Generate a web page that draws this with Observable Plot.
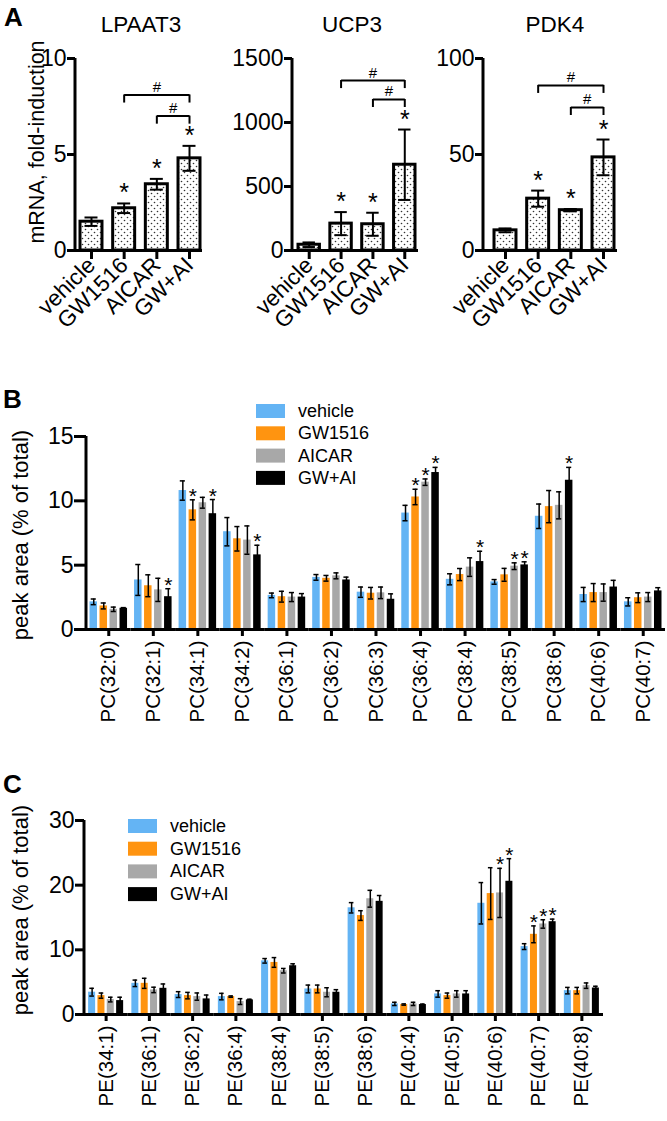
<!DOCTYPE html>
<html><head><meta charset="utf-8">
<script src="https://cdn.jsdelivr.net/npm/d3@7"></script>
<script src="https://cdn.jsdelivr.net/npm/@observablehq/plot@0.6"></script>
<style>
body{margin:0;background:#fff;}
#fig{position:relative;width:667px;height:1121px;overflow:hidden;background:#fff;}
</style></head><body>
<svg width="0" height="0" style="position:absolute;left:0;top:0"><defs>
<pattern id="dots" width="6" height="6" patternUnits="userSpaceOnUse">
<rect width="6" height="6" fill="white"/>
<circle cx="1.5" cy="1.5" r="0.8" fill="#333"/>
<circle cx="4.5" cy="4.5" r="0.8" fill="#333"/>
</pattern></defs></svg>
<div id="fig"></div>
<script>
// ---------- data ----------
const groups = ["vehicle", "GW1516", "AICAR", "GW+AI"];
const colors = ["#64b4f4", "#ff9410", "#a8a8a8", "#000000"];

// Panel A (mean, SEM)
const lpaat3Mean = [1.5, 2.2, 3.45, 4.8];
const lpaat3Err = [0.22, 0.25, 0.28, 0.65];
const ucp3Mean = [45, 210, 205, 670];
const ucp3Err = [18, 90, 90, 275];
const pdk4Mean = [10.5, 27, 21, 48.5];
const pdk4Err = [1.0, 4.2, 0.6, 9.3];
const starsA = ["GW1516", "AICAR", "GW+AI"];
const bracketPairs = [["GW1516", "GW+AI"], ["AICAR", "GW+AI"]];
const lpaat3Levels = [8.1, 7.0];
const ucp3Levels = [1328, 1180];
const pdk4Levels = [86, 74.5];
const lpaat3Ticks = [0, 5, 10];
const ucp3Ticks = [0, 500, 1000, 1500];
const pdk4Ticks = [0, 50, 100];

// Panel B
const lipidsB = ["PC(32:0)","PC(32:1)","PC(34:1)","PC(34:2)","PC(36:1)","PC(36:2)","PC(36:3)","PC(36:4)","PC(38:4)","PC(38:5)","PC(38:6)","PC(40:6)","PC(40:7)"];
const vehicleB = [2.15, 3.85, 10.8, 7.6, 2.65, 4.05, 2.9, 9.05, 3.9, 3.7, 8.8, 2.72, 2.15];
const vehicleBErr = [0.22, 1.2, 0.75, 1.1, 0.18, 0.22, 0.4, 0.6, 0.43, 0.18, 0.95, 0.55, 0.32];
const gwB = [1.83, 3.4, 9.3, 7.05, 2.55, 3.98, 2.82, 10.3, 4.27, 4.25, 9.55, 2.87, 2.47];
const gwBErr = [0.23, 0.85, 0.78, 0.95, 0.42, 0.22, 0.45, 0.6, 0.47, 0.5, 1.25, 0.7, 0.38];
const aicarB = [1.57, 3.08, 9.85, 6.95, 2.52, 4.17, 2.85, 11.45, 4.85, 4.92, 9.65, 2.87, 2.52];
const aicarBErr = [0.17, 0.9, 0.42, 1.1, 0.35, 0.23, 0.45, 0.25, 0.72, 0.26, 1.05, 0.67, 0.35];
const gwaiB = [1.65, 2.55, 9.0, 5.8, 2.52, 3.85, 2.35, 12.2, 5.28, 5.02, 11.6, 3.3, 3.0];
const gwaiBErr = [0.05, 0.62, 1.1, 0.75, 0.27, 0.22, 0.42, 0.4, 0.8, 0.24, 1.0, 0.52, 0.25];
const starsB = [["PC(32:1)","GW+AI"],["PC(34:1)","GW1516"],["PC(34:1)","GW+AI"],["PC(34:2)","GW+AI"],["PC(36:4)","GW1516"],["PC(36:4)","AICAR"],["PC(36:4)","GW+AI"],["PC(38:4)","GW+AI"],["PC(38:5)","AICAR"],["PC(38:5)","GW+AI"],["PC(38:6)","GW+AI"]];
const ticksB = [0, 5, 10, 15];

// Panel C
const lipidsC = ["PE(34:1)","PE(36:1)","PE(36:2)","PE(36:4)","PE(38:4)","PE(38:5)","PE(38:6)","PE(40:4)","PE(40:5)","PE(40:6)","PE(40:7)","PE(40:8)"];
const vehicleC = [3.45, 4.82, 3.08, 2.77, 8.3, 3.95, 16.5, 1.64, 3.18, 17.2, 10.5, 3.69];
const vehicleCErr = [0.6, 0.5, 0.45, 0.5, 0.35, 0.6, 0.8, 0.25, 0.5, 3.2, 0.45, 0.5];
const gwC = [2.92, 4.82, 2.92, 2.77, 8.05, 3.95, 15.3, 1.54, 2.92, 18.7, 12.4, 3.69];
const gwCErr = [0.4, 0.78, 0.5, 0.1, 0.75, 0.6, 0.75, 0.1, 0.4, 4.0, 1.3, 0.5];
const aicarC = [2.31, 3.8, 2.77, 2.0, 6.77, 3.44, 17.9, 1.64, 3.18, 18.8, 14.0, 4.46];
const aicarCErr = [0.36, 0.42, 0.56, 0.45, 0.35, 0.7, 1.3, 0.25, 0.5, 3.8, 0.65, 0.42];
const gwaiC = [2.15, 4.05, 2.41, 2.26, 7.54, 3.44, 17.5, 1.54, 3.18, 20.6, 14.35, 4.1];
const gwaiCErr = [0.52, 0.67, 0.6, 0.1, 0.3, 0.4, 0.9, 0.08, 0.5, 3.5, 0.4, 0.27];
const starsC = [["PE(40:6)","AICAR"],["PE(40:6)","GW+AI"],["PE(40:7)","GW1516"],["PE(40:7)","AICAR"],["PE(40:7)","GW+AI"]];
const ticksC = [0, 10, 20, 30];

// ---------- helpers ----------
const FONT = '"Liberation Sans", Arial, Helvetica, sans-serif';
const fig = document.getElementById("fig");
function place(node, left, top) {
  node.style.position = "absolute";
  node.style.left = left + "px";
  node.style.top = top + "px";
  fig.appendChild(node);
}
function leftLine() {
  let done = false;
  return (index, scales, values, dims) => {
    if (done) return null;
    done = true;
    const {marginLeft, marginTop, height, marginBottom} = dims;
    return d3.create("svg:line")
      .attr("x1", marginLeft).attr("x2", marginLeft)
      .attr("y1", marginTop).attr("y2", height - marginBottom + 1.5)
      .attr("stroke", "black").attr("stroke-width", 3).node();
  };
}
const fmt = d => String(d);

function chartA({means, errs, ticks, levels, left, width, marginLeft, marginRight, range}) {
  const data = groups.map((g, i) => ({group: g, mean: means[i], err: errs[i], star: starsA.includes(g)}));
  const ymax = ticks[ticks.length - 1];
  const br = bracketPairs.map(([from, to], i) => ({from, to, level: levels[i]}));
  const legs = br.flatMap(b => [{x: b.from, level: b.level}, {x: b.to, level: b.level}]);
  const leg = ymax * 0.042;
  const pin = 0.327;
  const step = (range[1] - range[0]) / (groups.length - pin);
  const plot = Plot.plot({
    width, height: 340, marginTop: 58, marginBottom: 90, marginLeft, marginRight,
    style: {background: "transparent", overflow: "visible", fontFamily: FONT},
    x: {domain: groups, range, paddingInner: pin, paddingOuter: 0, round: false, axis: null},
    y: {domain: [0, ymax], axis: null},
    marks: [
      Plot.barY(data, {x: "group", y: "mean", fill: "url(#dots)", stroke: "black", strokeWidth: 3}),
      Plot.ruleX(data, {x: "group", y1: d => d.mean - d.err, y2: d => d.mean + d.err, stroke: "black", strokeWidth: 2}),
      Plot.tickY(data, {x: "group", y: d => d.mean + d.err, stroke: "black", strokeWidth: 2, insetLeft: 4.5, insetRight: 4.5}),
      Plot.tickY(data, {x: "group", y: d => d.mean - d.err, stroke: "black", strokeWidth: 2, insetLeft: 4.5, insetRight: 4.5}),
      Plot.text(data.filter(d => d.star), {x: "group", y: d => d.mean + d.err, text: () => "*", fontSize: 25, lineAnchor: "bottom", dy: -2}),
      Plot.link(br, {x1: "from", x2: "to", y1: "level", y2: "level", stroke: "black", strokeWidth: 2}),
      Plot.ruleX(legs, {x: "x", y1: "level", y2: d => d.level - leg, stroke: "black", strokeWidth: 2}),
      ...br.map(b => Plot.text([b], {x: "to", y: "level", text: () => "#", fontSize: 15, lineAnchor: "bottom", dy: -3,
        dx: -(groups.indexOf(b.to) - groups.indexOf(b.from)) * step / 2})),
      Plot.ruleY([0], {stroke: "black", strokeWidth: 3}),
      leftLine(),
      Plot.axisY({ticks, tickFormat: fmt, tickSize: 8, strokeWidth: 3, fontSize: 23, tickPadding: 1, label: null}),
      Plot.axisX({tickSize: 9, strokeWidth: 3, fontSize: 22.5, tickRotate: -45, tickPadding: 2, label: null})
    ]
  });
  place(plot, left, 0);
}

function table(lipids, means, errs) {
  const rows = [];
  lipids.forEach((l, i) => groups.forEach((g, j) => rows.push({lipid: l, series: g, mean: means[j][i], err: errs[j][i]})));
  return rows;
}

function chartGrouped({lipids, rows, stars, ticks, top, height, marginTop, marginBottom, marginLeft, marginRight, pin, pout, tickSize}) {
  const ymax = ticks[ticks.length - 1];
  const starRows = rows.filter(r => stars.some(([l, s]) => l === r.lipid && s === r.series));
  const plot = Plot.plot({
    width: 667, height, marginTop, marginBottom, marginLeft, marginRight,
    style: {background: "transparent", overflow: "visible", fontFamily: FONT},
    fx: {domain: lipids, paddingInner: 0, paddingOuter: 0, round: false, axis: null},
    x: {domain: groups, paddingInner: pin, paddingOuter: pout, round: false, axis: null},
    y: {domain: [0, ymax], axis: null},
    color: {domain: groups, range: colors},
    marks: [
      Plot.barY(rows, {fx: "lipid", x: "series", y: "mean", fill: "series"}),
      Plot.ruleX(rows, {fx: "lipid", x: "series", y1: d => d.mean - d.err, y2: d => d.mean + d.err, stroke: "black", strokeWidth: 1.5}),
      Plot.tickY(rows, {fx: "lipid", x: "series", y: d => d.mean + d.err, stroke: "black", strokeWidth: 1.5, insetLeft: 1.2, insetRight: 1.2}),
      Plot.tickY(rows, {fx: "lipid", x: "series", y: d => d.mean - d.err, stroke: "black", strokeWidth: 1.5, insetLeft: 1.2, insetRight: 1.2}),
      Plot.text(starRows, {fx: "lipid", x: "series", y: d => d.mean + d.err, text: () => "*", fontSize: 21, lineAnchor: "bottom", dy: 3}),
      Plot.ruleY([0], {stroke: "black", strokeWidth: 3}),
      leftLine(),
      Plot.axisY({ticks, tickFormat: fmt, tickSize, strokeWidth: 3, fontSize: 23, tickPadding: 1, label: null}),
      Plot.axisFx({anchor: "bottom", tickRotate: -90, tickSize: 7, strokeWidth: 3, fontSize: 20.5, tickPadding: 4, label: null})
    ]
  });
  place(plot, 0, top);
}

// ---------- panel A ----------
chartA({means: lpaat3Mean, errs: lpaat3Err, ticks: lpaat3Ticks, levels: lpaat3Levels, left: 0, width: 220, marginLeft: 75, marginRight: 18, range: [80, 200]});
chartA({means: ucp3Mean, errs: ucp3Err, ticks: ucp3Ticks, levels: ucp3Levels, left: 220, width: 222, marginLeft: 72, marginRight: 24, range: [78, 195]});
chartA({means: pdk4Mean, errs: pdk4Err, ticks: pdk4Ticks, levels: pdk4Levels, left: 442, width: 225, marginLeft: 41, marginRight: 50, range: [52, 172]});

// ---------- panel B ----------
chartGrouped({lipids: lipidsB, rows: table(lipidsB, [vehicleB, gwB, aicarB, gwaiB], [vehicleBErr, gwBErr, aicarBErr, gwaiBErr]),
  stars: starsB, ticks: ticksB, top: 380, height: 360, marginTop: 56, marginBottom: 111, marginLeft: 86, marginRight: 2, pin: 0.25, pout: 0.35, tickSize: 12});

// ---------- panel C ----------
chartGrouped({lipids: lipidsC, rows: table(lipidsC, [vehicleC, gwC, aicarC, gwaiC], [vehicleCErr, gwCErr, aicarCErr, gwaiCErr]),
  stars: starsC, ticks: ticksC, top: 770, height: 351, marginTop: 50, marginBottom: 107, marginLeft: 84, marginRight: 64, pin: 0.25, pout: 0.44, tickSize: 9});

// ---------- annotations ----------
const ov = d3.create("svg").attr("width", 667).attr("height", 1121)
  .style("position", "absolute").style("left", "0px").style("top", "0px")
  .style("pointer-events", "none").style("font-family", FONT);
[["A", 4, 26], ["B", 3, 408], ["C", 3, 793]].forEach(([t, x, y]) =>
  ov.append("text").attr("x", x).attr("y", y).attr("font-size", 26).attr("font-weight", "bold").text(t));
[["LPAAT3", 141], ["UCP3", 352], ["PDK4", 555]].forEach(([t, x]) =>
  ov.append("text").attr("x", x).attr("y", 32).attr("font-size", 22.5).attr("text-anchor", "middle").text(t));
[["mRNA, fold-induction", 44, 142, 21.5], ["peak area (% of total)", 28, 535, 22], ["peak area (% of total)", 28, 910, 22]].forEach(([t, x, y, fs]) =>
  ov.append("text").attr("transform", `translate(${x},${y}) rotate(-90)`).attr("font-size", fs).attr("text-anchor", "middle").text(t));
function legend(x, y, dy) {
  groups.forEach((g, i) => {
    ov.append("rect").attr("x", x).attr("y", y + i * dy).attr("width", 29).attr("height", 14).attr("fill", colors[i]);
    ov.append("text").attr("x", x + 42).attr("y", y + i * dy + 13).attr("font-size", 18).text(g);
  });
}
legend(256, 404, 22.3);
legend(128, 819, 22.7);
fig.appendChild(ov.node());
</script>
</body></html>
